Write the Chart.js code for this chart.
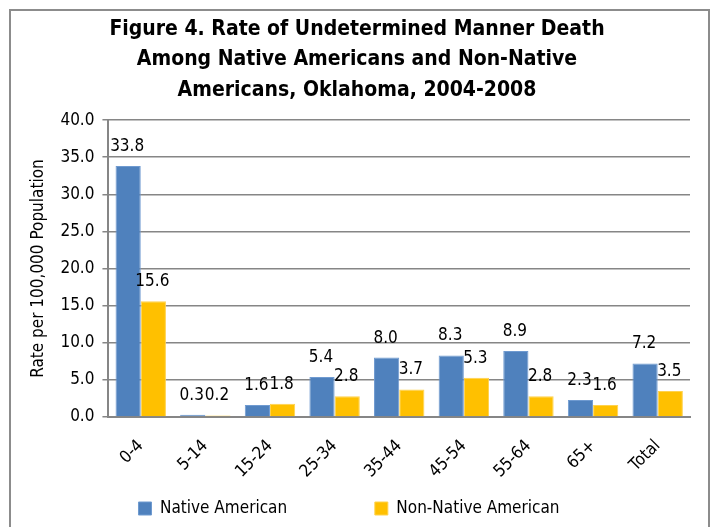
<!DOCTYPE html>
<html>
<head>
<meta charset="utf-8">
<script src="https://cdn.jsdelivr.net/npm/chart.js@4"></script>
<style>
  html, body { margin: 0; padding: 0; background: #fff; }
  #frame { position: absolute; left: 9px; top: 9px; width: 697px; height: 540px; border: 2px solid #8c8c8c; }
  #wrap { position: absolute; left: 0; top: 0; width: 717px; height: 527px; }
</style>
</head>
<body>
<div id="frame"></div>
<div id="wrap"><canvas id="chart"></canvas></div>
<script>
const FONT = '"Liberation Sans Narrow", "DejaVu Sans Condensed", Arial, sans-serif';

const categories = ['0-4', '5-14', '15-24', '25-34', '35-44', '45-54', '55-64', '65+', 'Total'];
const nativeRates = [33.8, 0.3, 1.6, 5.4, 8.0, 8.3, 8.9, 2.3, 7.2];
const nonNativeRates = [15.6, 0.2, 1.8, 2.8, 3.7, 5.3, 2.8, 1.6, 3.5];

// value labels above each bar
const barLabels = {
  id: 'barLabels',
  afterDatasetsDraw(chart) {
    const ctx = chart.ctx;
    ctx.save();
    ctx.font = '17px ' + FONT;
    ctx.fillStyle = '#000';
    ctx.textAlign = 'center';
    ctx.textBaseline = 'bottom';
    chart.data.datasets.forEach((ds, i) => {
      chart.getDatasetMeta(i).data.forEach((bar, j) => {
        ctx.fillText(ds.data[j].toFixed(1), bar.x - 1, bar.y - 11);
      });
    });
    ctx.restore();
  }
};

// nudge the legend a little left, like the original
const legendShift = {
  id: 'legendShift',
  afterLayout(chart) {
    chart.legend.left -= 8;
    chart.legend.right -= 8;
  }
};

new Chart(document.getElementById('chart'), {
  type: 'bar',
  data: {
    labels: categories,
    datasets: [
      { label: 'Native American', data: nativeRates, backgroundColor: '#4f81bd', borderColor: '#6f9ad0', borderWidth: 1 },
      { label: 'Non-Native American', data: nonNativeRates, backgroundColor: '#ffc000', borderColor: '#ffd24d', borderWidth: 1 }
    ]
  },
  options: {
    responsive: true,
    maintainAspectRatio: false,
    animation: false,
    layout: { padding: { left: 24, right: 27, top: 10, bottom: 0 } },
    datasets: { bar: { categoryPercentage: 0.78, barPercentage: 1.0 } },
    plugins: {
      title: {
        display: true,
        text: ['Figure 4. Rate of Undetermined Manner Death', 'Among Native Americans and Non-Native', 'Americans, Oklahoma, 2004-2008'],
        color: '#000',
        font: { family: FONT, size: 21, weight: 'bold', lineHeight: 1.43 },
        padding: { top: 5, bottom: 15 }
      },
      legend: {
        position: 'bottom',
        labels: {
          color: '#000',
          font: { family: FONT, size: 17 },
          boxWidth: 13,
          boxHeight: 13,
          padding: 10,
          // trailing spaces widen the gap between the two entries
          generateLabels(chart) {
            const items = Chart.defaults.plugins.legend.labels.generateLabels(chart);
            items[0].text = items[0].text + '                ';
            return items;
          }
        }
      },
      tooltip: { enabled: false }
    },
    scales: {
      x: {
        grid: { display: false },
        border: { color: '#868686', width: 2 },
        ticks: { color: '#000', font: { family: FONT, size: 17 }, maxRotation: 45, minRotation: 45, padding: 11 },
        afterFit(scale) { scale.height = 73; }
      },
      y: {
        min: 0,
        max: 40,
        ticks: { stepSize: 5, color: '#000', font: { family: FONT, size: 17 }, padding: 8,
          callback: v => v.toFixed(1) },
        grid: { color: '#868686', lineWidth: 1.5, tickLength: 6 },
        border: { color: '#868686', width: 2 },
        title: { display: true, text: 'Rate per 100,000 Population', color: '#000', font: { family: FONT, size: 17 }, padding: 4 }
      }
    }
  },
  plugins: [barLabels, legendShift]
});
</script>
</body>
</html>
